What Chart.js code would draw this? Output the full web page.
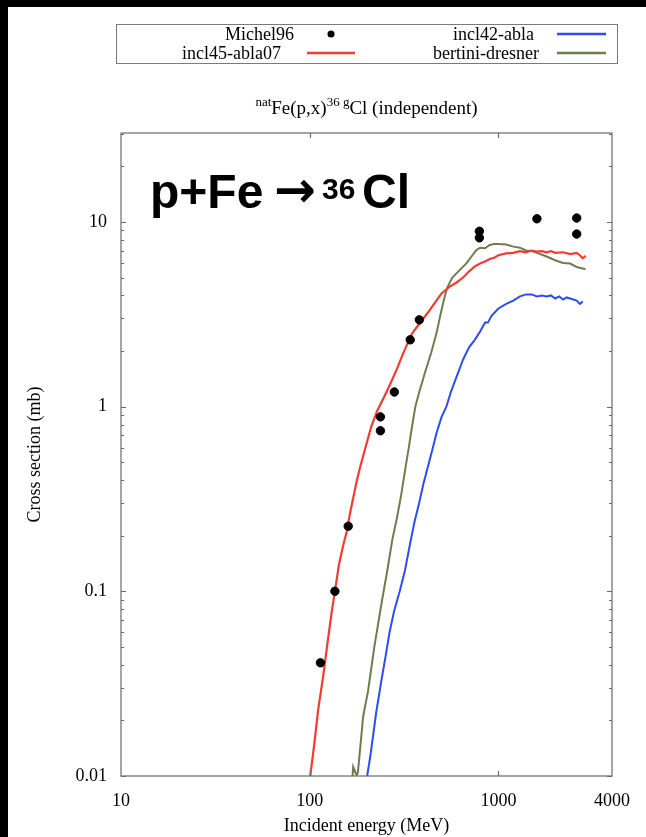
<!DOCTYPE html>
<html>
<head>
<meta charset="utf-8">
<script src="https://cdn.jsdelivr.net/npm/chart.js@4.4.1/dist/chart.umd.min.js"></script>
<style>
  html, body { margin: 0; padding: 0; background: #000; }
  #wrap { position: absolute; left: 8px; top: 7px; width: 638px; height: 830px; background: #fff; }
  canvas { display: block; }
</style>
</head>
<body>
<div id="wrap"><canvas id="xsChart" width="638" height="830"></canvas></div>
<script>
// Michel96 measurements (MeV, mb)
const michelEnergy = [114, 136, 160, 237, 237, 281, 341, 381, 793, 793, 1600, 2600, 2600];
const michelXs = [0.041, 0.1, 0.225, 0.88, 0.74, 1.2, 2.3, 2.95, 8.9, 8.2, 10.4, 10.5, 8.6];

// incl45-abla07
const incl45Energy = [100, 105, 111, 118, 125, 131, 137, 143, 150, 157, 163, 170, 178, 186, 192, 200, 212, 228, 245, 265, 290, 310, 330, 350, 375, 400, 430, 460, 500, 550, 600, 650, 700, 750, 800, 850, 900, 950, 1000, 1100, 1200, 1300, 1400, 1500, 1600, 1700, 1800, 1900, 2000, 2200, 2400, 2600, 2700, 2800, 2900];
const incl45Xs = [0.0095, 0.014, 0.023, 0.035, 0.055, 0.078, 0.105, 0.14, 0.175, 0.21, 0.26, 0.32, 0.40, 0.48, 0.54, 0.63, 0.78, 0.95, 1.1, 1.3, 1.6, 1.9, 2.2, 2.5, 2.75, 3.0, 3.3, 3.65, 4.1, 4.45, 4.7, 5.0, 5.4, 5.75, 5.95, 6.1, 6.3, 6.4, 6.6, 6.75, 6.8, 6.95, 6.85, 7.0, 6.9, 6.95, 6.85, 6.95, 6.8, 6.85, 6.7, 6.8, 6.6, 6.35, 6.55];

// incl42-abla
const incl42Energy = [200, 210, 225, 240, 252, 265, 280, 300, 320, 340, 360, 380, 400, 420, 446, 470, 500, 530, 560, 600, 650, 700, 750, 800, 850, 880, 920, 1000, 1100, 1200, 1300, 1400, 1500, 1600, 1700, 1800, 1900, 2000, 2100, 2200, 2300, 2400, 2600, 2700, 2800];
const incl42Xs = [0.0095, 0.013, 0.022, 0.033, 0.044, 0.06, 0.078, 0.1, 0.13, 0.18, 0.24, 0.3, 0.38, 0.46, 0.58, 0.72, 0.88, 1.0, 1.2, 1.45, 1.8, 2.1, 2.3, 2.55, 2.85, 2.85, 3.1, 3.4, 3.6, 3.75, 3.95, 4.05, 4.05, 3.95, 4.0, 3.95, 4.0, 3.85, 3.95, 3.8, 3.9, 3.85, 3.75, 3.6, 3.7];

// bertini-dresner
const bertiniEnergy = [168, 170, 177, 180, 192, 204, 220, 242, 258, 274, 290, 305, 320, 335, 350, 363, 385, 410, 440, 470, 495, 515, 535, 570, 625, 680, 720, 760, 800, 850, 900, 950, 1000, 1100, 1200, 1300, 1400, 1500, 1600, 1800, 2000, 2200, 2400, 2600, 2800, 2900];
const bertiniXs = [0.0095, 0.0112, 0.0101, 0.0104, 0.021, 0.029, 0.05, 0.09, 0.13, 0.19, 0.25, 0.33, 0.45, 0.6, 0.8, 1.0, 1.25, 1.55, 1.95, 2.5, 3.2, 3.8, 4.4, 5.0, 5.5, 6.0, 6.5, 7.0, 7.25, 7.2, 7.5, 7.6, 7.6, 7.55, 7.35, 7.25, 7.0, 6.95, 6.8, 6.5, 6.2, 6.0, 5.95, 5.7, 5.6, 5.55];

const xTicks = [10, 100, 1000, 4000];
const yTicks = [0.01, 0.1, 1, 10];

const serif = '"Liberation Serif", "Times New Roman", serif';
const toPoints = (xs, ys) => xs.map((x, i) => ({ x: x, y: ys[i] }));

// frame and inward tick marks, gnuplot style
const frameTicks = {
	id: "frameTicks",
	afterDatasetsDraw(chart) {
		const { ctx, chartArea: a, scales } = chart;
		ctx.save();
		ctx.strokeStyle = "#6a6a6a";
		ctx.lineWidth = 1.2;
		ctx.strokeRect(a.left, a.top, a.right - a.left, a.bottom - a.top);
		ctx.beginPath();
		const yMax = scales.y.max;
		for (let d = 0.01; d < 100; d *= 10) {
			for (let m = 1; m <= 9; m++) {
				const v = m * d;
				if (v > yMax) break;
				const py = Math.round(scales.y.getPixelForValue(v)) + 0.5;
				const len = m === 1 ? 5 : 3;
				ctx.moveTo(a.left, py);
				ctx.lineTo(a.left + len, py);
				ctx.moveTo(a.right, py);
				ctx.lineTo(a.right - len, py);
			}
		}
		[100, 1000].forEach((v) => {
			const px = Math.round(scales.x.getPixelForValue(v)) + 0.5;
			ctx.moveTo(px, a.bottom);
			ctx.lineTo(px, a.bottom - 5);
			ctx.moveTo(px, a.top);
			ctx.lineTo(px, a.top + 5);
		});
		ctx.stroke();
		ctx.restore();
	},
};

// boxed two column legend, title and the big label
const decorations = {
	id: "decorations",
	afterDraw(chart) {
		const { ctx, chartArea: a } = chart;
		ctx.save();

		// legend
		ctx.strokeStyle = "#7a7a7a";
		ctx.lineWidth = 1;
		ctx.strokeRect(108.5, 17.5, 501, 39);
		const slots = [
			{ tx: 286, y: 27, x0: 299, x1: 347 },
			{ tx: 273, y: 46, x0: 299, x1: 347 },
			{ tx: 526, y: 27, x0: 549, x1: 598 },
			{ tx: 531, y: 46, x0: 549, x1: 598 },
		];
		ctx.font = "18px " + serif;
		ctx.textAlign = "right";
		ctx.textBaseline = "middle";
		chart.data.datasets.forEach((ds, i) => {
			const s = slots[i];
			ctx.fillStyle = "#000";
			ctx.fillText(ds.label, s.tx, s.y + 1);
			if (ds.showLine === false) {
				ctx.beginPath();
				ctx.arc((s.x0 + s.x1) / 2, s.y, 3.5, 0, Math.PI * 2);
				ctx.fill();
			} else {
				ctx.strokeStyle = ds.borderColor;
				ctx.lineWidth = 2.5;
				ctx.beginPath();
				ctx.moveTo(s.x0, s.y);
				ctx.lineTo(s.x1, s.y);
				ctx.stroke();
			}
		});

		// title with superscripts
		const parts = [
			{ t: "nat", size: 13, dy: -8 },
			{ t: "Fe(p,x)", size: 19, dy: 0 },
			{ t: "36 g", size: 13, dy: -8 },
			{ t: "Cl (independent)", size: 19, dy: 0 },
		];
		let total = 0;
		parts.forEach((p) => {
			ctx.font = p.size + "px " + serif;
			p.w = ctx.measureText(p.t).width;
			total += p.w;
		});
		let x = (a.left + a.right) / 2 - total / 2;
		ctx.textAlign = "left";
		ctx.textBaseline = "alphabetic";
		ctx.fillStyle = "#000";
		parts.forEach((p) => {
			ctx.font = p.size + "px " + serif;
			ctx.fillText(p.t, x, 107 + p.dy);
			x += p.w;
		});

		// big annotation
		ctx.font = 'bold 48px "Liberation Sans", Arial, sans-serif';
		ctx.fillText("p+Fe", 142, 201);
		ctx.font = 'bold 50px "DejaVu Sans", sans-serif';
		ctx.fillText("\u2192", 266, 200);
		ctx.font = 'bold 30px "Liberation Sans", Arial, sans-serif';
		ctx.fillText("36", 314, 192);
		ctx.font = 'bold 48px "Liberation Sans", Arial, sans-serif';
		ctx.fillText("Cl", 354, 201);

		ctx.restore();
	},
};

const ctx = document.getElementById("xsChart").getContext("2d");
new Chart(ctx, {
	type: "scatter",
	data: {
		datasets: [
			{
				label: "Michel96",
				data: toPoints(michelEnergy, michelXs),
				showLine: false,
				pointRadius: 4.2,
				pointBackgroundColor: "#000",
				pointBorderColor: "#000",
				borderColor: "#000",
			},
			{
				label: "incl45-abla07",
				data: toPoints(incl45Energy, incl45Xs),
				showLine: true,
				pointRadius: 0,
				borderColor: "#f03c32",
				borderWidth: 2.2,
			},
			{
				label: "incl42-abla",
				data: toPoints(incl42Energy, incl42Xs),
				showLine: true,
				pointRadius: 0,
				borderColor: "#2f4cf2",
				borderWidth: 2,
			},
			{
				label: "bertini-dresner",
				data: toPoints(bertiniEnergy, bertiniXs),
				showLine: true,
				pointRadius: 0,
				borderColor: "#6e7d50",
				borderWidth: 2,
			},
		],
	},
	options: {
		responsive: false,
		animation: false,
		layout: { padding: { left: 0, top: 126, right: 34, bottom: 0 } },
		plugins: {
			legend: { display: false },
			tooltip: { enabled: false },
		},
		scales: {
			x: {
				type: "logarithmic",
				min: 10,
				max: 4000,
				afterBuildTicks: (s) => {
					s.ticks = xTicks.map((v) => ({ value: v }));
				},
				afterFit: (s) => {
					s.height = 61;
				},
				grid: { display: false },
				border: { display: false },
				ticks: {
					callback: (v) => String(v),
					font: { family: serif, size: 18 },
					color: "#000",
					padding: 6,
					maxRotation: 0,
					autoSkip: false,
				},
				title: {
					display: true,
					text: "Incident energy (MeV)",
					font: { family: serif, size: 18 },
					color: "#000",
					padding: { top: 6, bottom: 0 },
				},
			},
			y: {
				type: "logarithmic",
				min: 0.01,
				max: 30.3,
				afterBuildTicks: (s) => {
					s.ticks = yTicks.map((v) => ({ value: v }));
				},
				afterFit: (s) => {
					s.width = 113;
				},
				grid: { display: false },
				border: { display: false },
				ticks: {
					callback: (v) => String(v),
					font: { family: serif, size: 18 },
					color: "#000",
					padding: 6,
					autoSkip: false,
				},
				title: {
					display: true,
					text: "Cross section (mb)",
					font: { family: serif, size: 18 },
					color: "#000",
					padding: { top: 16, bottom: 0 },
				},
			},
		},
	},
	plugins: [frameTicks, decorations],
});
</script>
</body>
</html>
